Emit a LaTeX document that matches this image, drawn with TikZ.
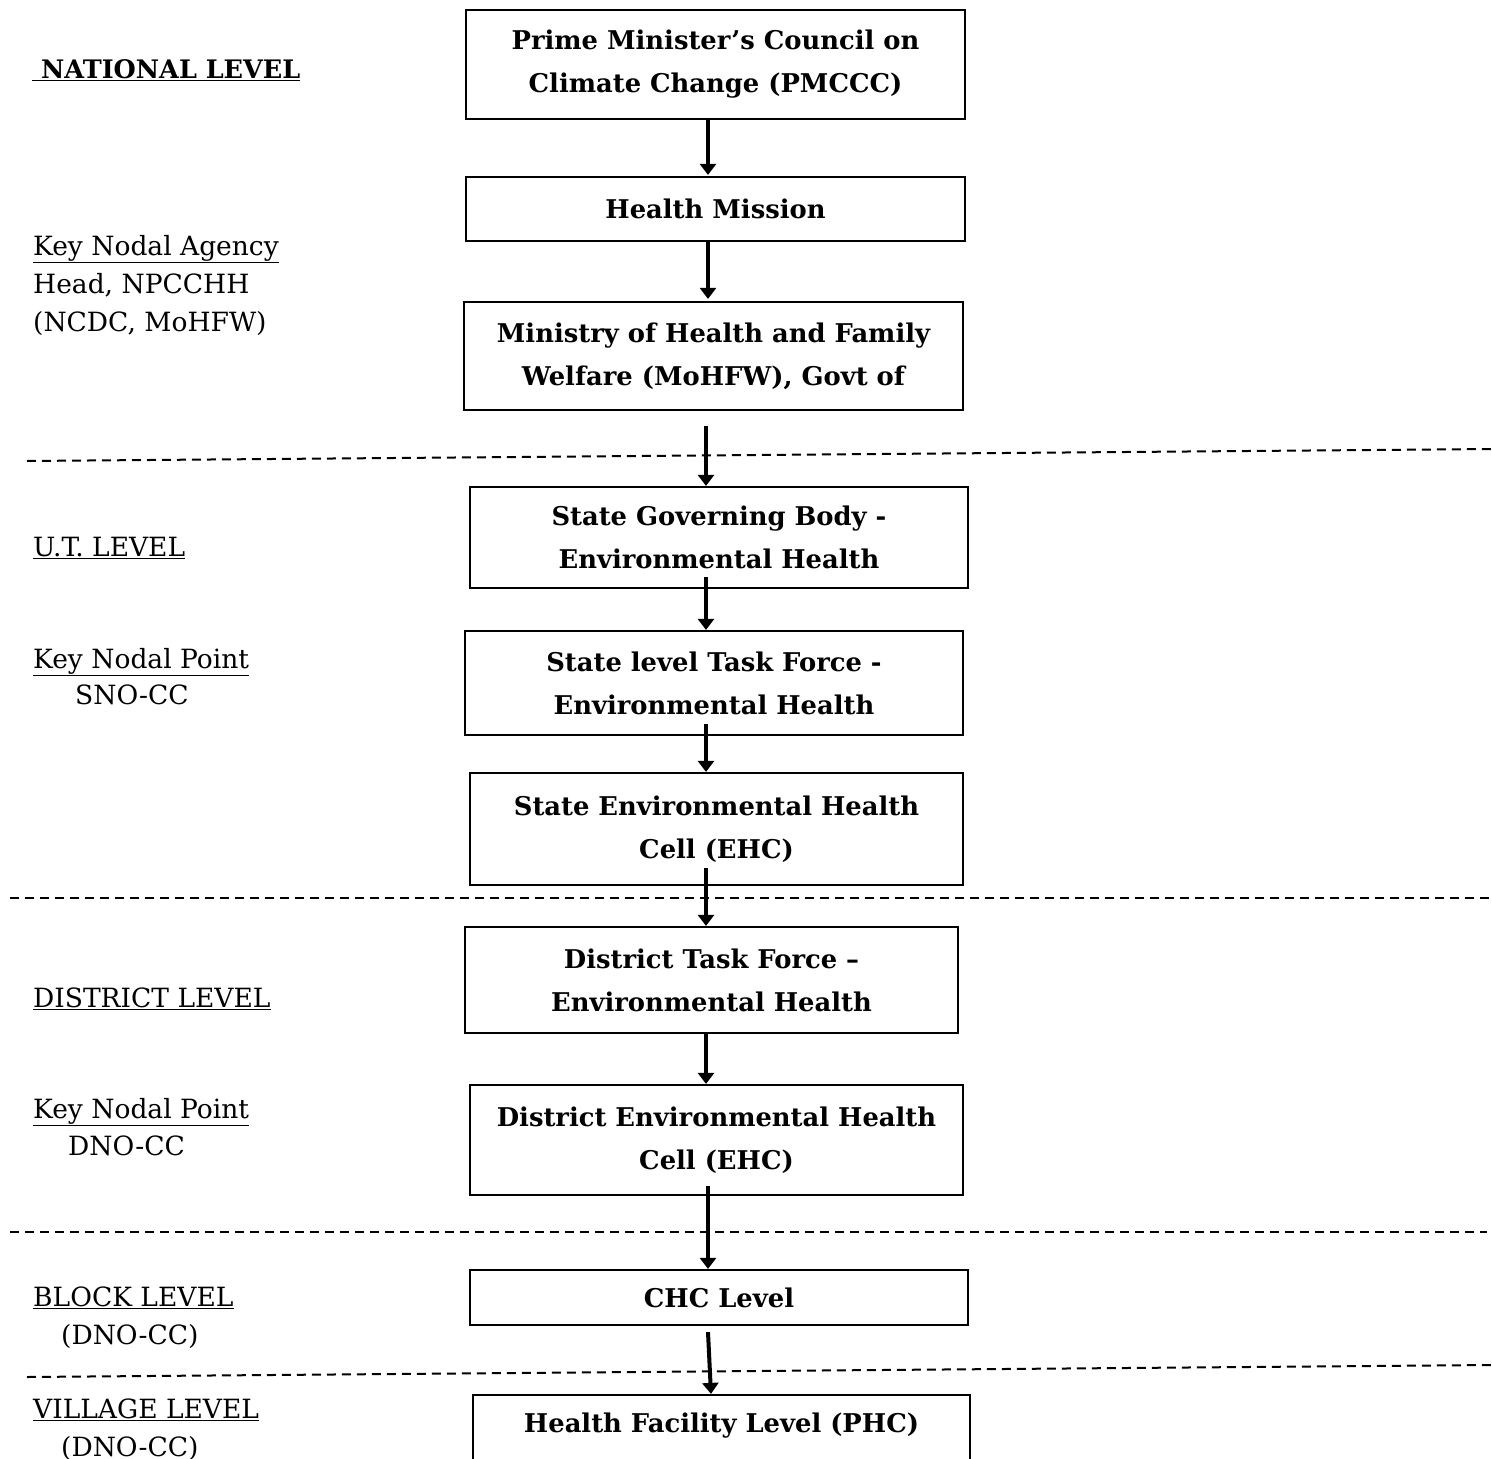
\documentclass[tikz,border=0pt]{standalone}
\usepackage{fontspec}
\setmainfont{DejaVu Serif}
\usetikzlibrary{arrows.meta,calc}
\begin{document}
\begin{tikzpicture}[x=1pt,y=-1pt,
  box/.style={draw,line width=2.2pt,inner sep=0pt,align=center,font=\fontsize{25.8}{43}\selectfont\bfseries},
  boxtext/.style={inner sep=0pt,align=center,font=\fontsize{25.8}{43}\selectfont\bfseries},
  lbl/.style={anchor=base west,inner sep=0pt,font=\fontsize{26.5}{38}\selectfont},
  arr/.style={line width=4pt,-{Triangle[length=11pt,width=16pt]}},
  sep/.style={line width=2pt,dash pattern=on 9pt off 6pt}]
\useasboundingbox (0,0) rectangle (1492,1459);
\clip (0,0) rectangle (1492,1459);
\fill[white] (0,0) rectangle (1492,1459);

% separators
\coordinate (d1l) at (27,461);   \coordinate (d1r) at (1492,449);
\coordinate (d2l) at (10,898);   \coordinate (d2r) at (1492,898);
\coordinate (d3l) at (10,1232);  \coordinate (d3r) at (1487,1232);
\coordinate (d4l) at (27,1377);  \coordinate (d4r) at (1492,1365);
\draw[sep] (d1l) -- (d1r);
\draw[sep] (d2l) -- (d2r);
\draw[sep] (d3l) -- (d3r);
\draw[sep] (d4l) -- (d4r);

% boxes
\node[box,minimum width=499pt,minimum height=109pt] (pm) at (715.5,64.5) {Prime Minister’s Council on\\Climate Change (PMCCC)};
\node[box,minimum width=499pt,minimum height=64pt] (hm) at (715.5,209) {Health Mission};
\node[box,minimum width=499pt,minimum height=108pt] (mo) at (713.5,356) {Ministry of Health and Family\\Welfare (MoHFW), Govt of};
\node[box,minimum width=498pt,minimum height=101pt] (sgb) at (719,537.5) {State Governing Body -\\Environmental Health};
\node[box,minimum width=498pt,minimum height=104pt] (sltf) at (714,683) {State level Task Force -\\Environmental Health};
\node[box,minimum width=493pt,minimum height=112pt] (sehc) at (716.5,829) {State Environmental Health\\Cell (EHC)};
\node[box,minimum width=493pt,minimum height=106pt] (dtf) at (711.5,980) {District Task Force –\\Environmental Health};
\node[box,minimum width=493pt,minimum height=110pt] (dehc) at (716.5,1140) {District Environmental Health\\Cell (EHC)};
\node[box,minimum width=498pt,minimum height=55pt] (chc) at (719,1297.5) {CHC Level};
\node[box,minimum width=497pt,minimum height=90pt] (phc) at (721.5,1440) {};
\node[boxtext] (phct) at (721.5,1426) {Health Facility Level (PHC)};

% arrows
\coordinate (a1) at (708,0);
\coordinate (a2) at (706,0);
\coordinate (a3) at (711,0);
\draw[arr] (pm.south -| a1) -- ($(hm.north -| a1)+(0,-1)$);
\draw[arr] (hm.south -| a1) -- ($(mo.north -| a1)+(0,-2)$);
\draw[arr] ($(mo.south -| a2)+(0,15)$) -- (sgb.north -| a2);
\draw[arr] ($(sgb.south -| a2)+(0,-12)$) -- (sltf.north -| a2);
\draw[arr] ($(sltf.south -| a2)+(0,-12)$) -- (sehc.north -| a2);
\draw[arr] ($(sehc.south -| a2)+(0,-18)$) -- (dtf.north -| a2);
\draw[arr] (dtf.south -| a2) -- (dehc.north -| a2);
\draw[arr] ($(dehc.south -| a1)+(0,-10)$) -- (chc.north -| a1);
\draw[arr] ($(chc.south -| a1)+(0,6)$) -- (phc.north -| a3);

% left labels
\node[lbl,font=\fontsize{25.5}{38}\selectfont\bfseries] (nat) at (32,78) {\underline{\ NATIONAL LEVEL}};
\node[lbl] (kna) at (33,255) {\underline{Key Nodal Agency}};
\node[lbl] (head) at (33,293) {Head, NPCCHH};
\node[lbl] (ncdc) at (33,331) {(NCDC, MoHFW)};
\node[lbl] (ut) at (33,556) {\underline{U.T. LEVEL}};
\node[lbl] (knp1) at (33,668) {\underline{Key Nodal Point}};
\node[lbl] (sno) at (75,704) {SNO-CC};
\node[lbl] (dist) at (33,1007) {\underline{DISTRICT LEVEL}};
\node[lbl] (knp2) at (33,1118) {\underline{Key Nodal Point}};
\node[lbl] (dno) at (68,1155) {DNO-CC};
\node[lbl] (block) at (33,1306) {\underline{BLOCK LEVEL}};
\node[lbl] (dno2) at (61,1344) {(DNO-CC)};
\node[lbl] (vill) at (33,1418) {\underline{VILLAGE LEVEL}};
\node[lbl] (dno3) at (61,1456) {(DNO-CC)};
\end{tikzpicture}
\end{document}
